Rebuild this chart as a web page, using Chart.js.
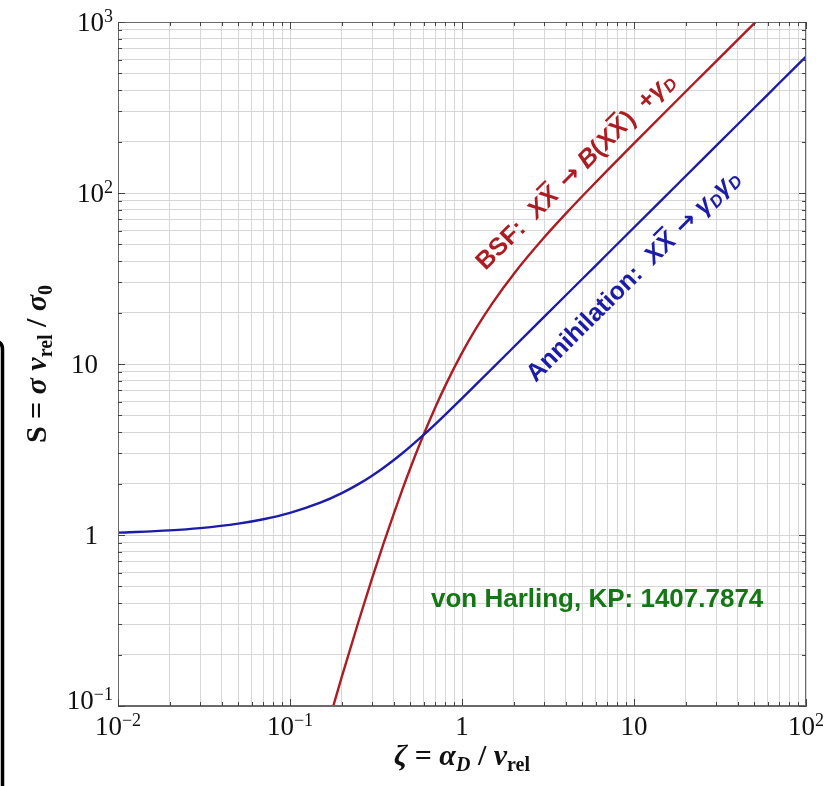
<!DOCTYPE html>
<html><head><meta charset="utf-8">
<script src="https://cdn.jsdelivr.net/npm/chart.js@4.4.1/dist/chart.umd.min.js"></script>
<style>html,body{margin:0;padding:0;background:#fff;} #wrap{width:829px;height:786px;position:relative;}</style>
</head><body><div id="wrap"><canvas id="c" width="829" height="786"></canvas></div>
<script>
// ---- data ----
const zetaAnn = [0.01,0.02,0.03,0.05,0.07,0.1,0.15,0.2,0.25,0.3,0.35,0.4,0.45,0.5,0.6,0.7,0.8,1,1.2,1.5,2,3,5,7,10,20,30,50,70,100];
const annihilation = [1.032,1.064,1.097,1.165,1.236,1.347,1.544,1.757,1.983,2.222,2.473,2.735,3.005,3.284,3.859,4.453,5.060,6.295,7.544,9.426,12.57,18.85,31.42,43.98,62.83,125.7,188.5,314.2,439.8,628.3];
const zetaBSF = [0.15,0.18,0.2,0.25,0.3,0.35,0.4,0.45,0.5,0.6,0.7,0.8,1,1.2,1.5,2,3,4,5,7,10,20,30,50,60];
const bsf = [0.0544,0.103,0.148,0.311,0.557,0.893,1.322,1.844,2.449,3.892,5.589,7.476,11.61,15.98,22.64,33.63,54.86,75.43,95.67,135.7,195.1,392.2,588.9,982.0,1178];
const xTickValues = [0.01,0.1,1,10,100];
const xTickLabels = [['10','\u22122'],['10','\u22121'],['1',''],['10',''],['10','2']];
const yTickValues = [0.1,1,10,100,1000];
const yTickLabels = [['10','\u22121'],['1',''],['10',''],['10','2'],['10','3']];
const seriesNames = ['Annihilation','BSF'];
const creditText = 'von Harling, KP: 1407.7874';

const RED = '#ac1c22', BLUE = '#1c1ca8', GREEN = '#137813';
const SERIF = '"Liberation Serif", "DejaVu Serif", serif';
const SANS = '"Liberation Sans", Arial, sans-serif';

function gridTicks(scale, e0, e1) {
  const t = [];
  for (let e = e0; e < e1; e++) for (let m = 1; m <= 9; m++) t.push({value: +(m * Math.pow(10, e)).toPrecision(6), major: m === 1});
  t.push({value: Math.pow(10, e1), major: true});
  scale.ticks = t;
}

function drawRuns(ctx, runs, x, y, measureOnly) {
  let cx = x;
  for (const r of runs) {
    ctx.font = r.font;
    const w = ctx.measureText(r.t).width;
    if (!measureOnly) {
      ctx.fillText(r.t, cx, y + (r.dy || 0));
      if (r.over) {
        const sz = parseFloat(r.font.match(/(\d+(\.\d+)?)px/)[1]);
        ctx.save();
        ctx.lineWidth = sz * 0.09;
        ctx.strokeStyle = ctx.fillStyle;
        ctx.beginPath();
        ctx.moveTo(cx + w * 0.25, y - sz * 0.86);
        ctx.lineTo(cx + w * 1.05, y - sz * 0.86);
        ctx.stroke();
        ctx.restore();
      }
    }
    cx += w + (r.sp || 0);
  }
  return cx - x;
}

const decor = {
  id: 'decor',
  afterDraw(chart) {
    const ctx = chart.ctx, a = chart.chartArea;
    const xs = chart.scales.x, ys = chart.scales.y;
    ctx.save();
    // frame
    ctx.strokeStyle = '#6a6a6a'; ctx.lineWidth = 1;
    ctx.strokeRect(a.left + 0.5, a.top + 0.5, a.right - a.left - 1, a.bottom - a.top - 1);
    // inward ticks
    ctx.strokeStyle = '#444'; ctx.lineWidth = 1;
    ctx.beginPath();
    for (const t of xs.ticks) {
      const p = Math.round(xs.getPixelForValue(t.value)) + 0.5, L = t.major ? 7 : 4;
      ctx.moveTo(p, a.bottom); ctx.lineTo(p, a.bottom - L);
      ctx.moveTo(p, a.top); ctx.lineTo(p, a.top + L);
    }
    for (const t of ys.ticks) {
      const p = Math.round(ys.getPixelForValue(t.value)) + 0.5, L = t.major ? 7 : 4;
      ctx.moveTo(a.left, p); ctx.lineTo(a.left + L, p);
      ctx.moveTo(a.right, p); ctx.lineTo(a.right - L, p);
    }
    ctx.stroke();

    // tick labels
    ctx.fillStyle = '#111';
    ctx.textBaseline = 'alphabetic'; ctx.textAlign = 'left';
    const bf = '27px ' + SERIF, sf = '18px ' + SERIF;
    yTickValues.forEach((v, i) => {
      const [b, s] = yTickLabels[i];
      const py = ys.getPixelForValue(v);
      ctx.font = bf; const wb = ctx.measureText(b).width;
      ctx.font = sf; const ws = s ? ctx.measureText(s).width : 0;
      const right = s ? 113 : 98;
      const x0 = right - wb - ws;
      const base = (i === 0) ? py + 3 : py + 9;
      ctx.font = bf; ctx.fillText(b, x0, base);
      if (s) { ctx.font = sf; ctx.fillText(s, x0 + wb, base - 9); }
    });
    xTickValues.forEach((v, i) => {
      const [b, s] = xTickLabels[i];
      const px = xs.getPixelForValue(v);
      ctx.font = bf; const wb = ctx.measureText(b).width;
      ctx.font = sf; const ws = s ? ctx.measureText(s).width : 0;
      let x0 = px - (wb + ws) / 2;
      if (x0 + wb + ws > 824) x0 = 824 - wb - ws;
      const base = 735;
      ctx.font = bf; ctx.fillText(b, x0, base);
      if (s) { ctx.font = sf; ctx.fillText(s, x0 + wb, base - 9); }
    });

    // axis titles
    const B = 'bold 30px ' + SERIF, BI = 'italic bold 30px ' + SERIF, SB = 'bold 20px ' + SERIF, SBI = 'italic bold 20px ' + SERIF;
    const xt = [
      {t: '\u03b6', font: BI}, {t: ' = ', font: B}, {t: '\u03b1', font: BI}, {t: 'D', font: SBI, dy: 6},
      {t: ' / ', font: B}, {t: 'v', font: BI}, {t: 'rel', font: SB, dy: 6}
    ];
    let w = drawRuns(ctx, xt, 0, 0, true);
    drawRuns(ctx, xt, (a.left + a.right) / 2 - w / 2, 765);
    const yt = [
      {t: 'S', font: B}, {t: ' = ', font: B}, {t: '\u03c3', font: BI}, {t: ' ', font: B}, {t: 'v', font: BI},
      {t: 'rel', font: SB, dy: 6}, {t: ' / ', font: B}, {t: '\u03c3', font: BI}, {t: '0', font: SB, dy: 6}
    ];
    w = drawRuns(ctx, yt, 0, 0, true);
    ctx.save();
    ctx.translate(46, (a.top + a.bottom) / 2); ctx.rotate(-Math.PI / 2);
    drawRuns(ctx, yt, -w / 2, 0);
    ctx.restore();

    // annotations along the curves
    const AB = 'bold 25px ' + SANS, ABI = 'italic bold 25px ' + SANS, AS = 'italic bold 17px ' + SANS;
    const AR = 'bold 25px "DejaVu Sans", sans-serif';
    const ang = -Math.atan2(ys.getPixelForValue(1) - ys.getPixelForValue(10), xs.getPixelForValue(10) - xs.getPixelForValue(1));
    const bsfRuns = [
      {t: 'BSF:  ', font: AB}, {t: 'X', font: ABI}, {t: 'X', font: ABI, over: true, sp: 3}, {t: ' ', font: AB}, {t: '\u2192', font: AR},
      {t: ' ', font: AB}, {t: 'B', font: ABI}, {t: '(', font: AB}, {t: 'X', font: ABI}, {t: 'X', font: ABI, over: true, sp: 2}, {t: ')', font: AB},
      {t: '  +', font: AB}, {t: '\u03b3', font: ABI}, {t: 'D', font: AS, dy: 4}
    ];
    ctx.save();
    ctx.fillStyle = RED;
    ctx.translate(xs.getPixelForValue(1.37), ys.getPixelForValue(35)); ctx.rotate(ang);
    drawRuns(ctx, bsfRuns, 0, 0);
    ctx.restore();
    const annRuns = [
      {t: 'Annihilation:  ', font: AB}, {t: 'X', font: ABI}, {t: 'X', font: ABI, over: true, sp: 2}, {t: ' ', font: AB}, {t: '\u2192', font: AR},
      {t: ' ', font: AB}, {t: '\u03b3', font: ABI}, {t: 'D', font: AS, dy: 4}, {t: '\u03b3', font: ABI}, {t: 'D', font: AS, dy: 4}
    ];
    ctx.save();
    ctx.fillStyle = BLUE;
    ctx.translate(xs.getPixelForValue(2.68), ys.getPixelForValue(7.74)); ctx.rotate(ang);
    drawRuns(ctx, annRuns, 0, 0);
    ctx.restore();

    // credit
    ctx.fillStyle = GREEN; ctx.font = 'bold 26px ' + SANS;
    ctx.fillText(creditText, xs.getPixelForValue(0.66), ys.getPixelForValue(0.379));

    // left dark edge (frame of the screenshot)
    ctx.strokeStyle = '#000'; ctx.lineWidth = 3.5;
    ctx.beginPath();
    ctx.moveTo(-3, 342); ctx.quadraticCurveTo(2.5, 342, 2.5, 350); ctx.lineTo(2.5, 790);
    ctx.stroke();
    ctx.restore();
  }
};

new Chart(document.getElementById('c'), {
  type: 'line',
  data: {
    datasets: [
      {label: seriesNames[0], data: zetaAnn.map((x, i) => ({x, y: annihilation[i]})), borderColor: BLUE, borderWidth: 2.4,
       pointRadius: 0, cubicInterpolationMode: 'monotone', clip: 0, fill: false},
      {label: seriesNames[1], data: zetaBSF.map((x, i) => ({x, y: bsf[i]})), borderColor: RED, borderWidth: 2.4,
       pointRadius: 0, cubicInterpolationMode: 'monotone', clip: 0, fill: false}
    ]
  },
  options: {
    responsive: false, animation: false, devicePixelRatio: 1,
    layout: {padding: {left: 0, top: 22, right: 23, bottom: 0}},
    plugins: {legend: {display: false}, tooltip: {enabled: false}},
    scales: {
      x: {type: 'logarithmic', min: 0.01, max: 100, position: 'bottom',
          afterBuildTicks: s => gridTicks(s, -2, 2), afterFit: s => { s.height = 80; },
          ticks: {display: false}, grid: {color: '#d6d6d6', lineWidth: 1, drawTicks: false},
          border: {display: true, color: '#6a6a6a', width: 1}},
      y: {type: 'logarithmic', min: 0.1, max: 1000, position: 'left',
          afterBuildTicks: s => gridTicks(s, -1, 3), afterFit: s => { s.width = 118; },
          ticks: {display: false}, grid: {color: '#d6d6d6', lineWidth: 1, drawTicks: false},
          border: {display: true, color: '#6a6a6a', width: 1}}
    }
  },
  plugins: [decor]
});
</script></body></html>
